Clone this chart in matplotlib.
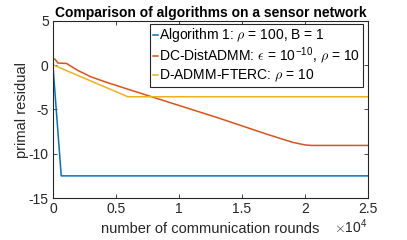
import matplotlib
matplotlib.use("Agg")
import matplotlib.pyplot as plt
import numpy as np

plt.rcParams['font.family'] = ['Liberation Sans', 'DejaVu Sans']
plt.rcParams['mathtext.fontset'] = 'cm'

# values
alg1_x = [0, 660, 25000]
alg1_y = [0, -12.5, -12.5]

dc_x = [0, 150, 400, 1100, 1300, 2000, 3000, 4400, 7700, 13100, 17000, 19000, 20000, 20500, 25000]
dc_y = [0.7, 0.7, 0.25, 0.2, 0.0, -0.6, -1.3, -2.0, -3.5, -5.94, -7.8, -8.7, -9.0, -9.06, -9.06]

fterc_x = [0, 5950, 25000]
fterc_y = [0.05, -3.56, -3.56]

labels = [r'Algorithm 1: $\rho$ = 100, B = 1',
          r'DC-DistADMM: $\epsilon$ = 10$^{\mathregular{-10}}$, $\rho$ = 10',
          r'D-ADMM-FTERC: $\rho$ = 10']
colors = ['#0072BD', '#D95319', '#EDB120']

fig = plt.figure(figsize=(4.07, 2.4), dpi=100)
ax = fig.add_axes([0.130, 0.175, 0.774, 0.7375])

ax.plot(alg1_x, alg1_y, color=colors[0], lw=1.1, label=labels[0])
ax.plot(dc_x, dc_y, color=colors[1], lw=1.1, label=labels[1])
ax.plot(fterc_x, fterc_y, color=colors[2], lw=1.1, label=labels[2])

ax.set_xlim(0, 25000)
ax.set_ylim(-15, 5)
ax.set_xticks([0, 5000, 10000, 15000, 20000, 25000])
ax.set_xticklabels(['0', '0.5', '1', '1.5', '2', '2.5'])
ax.set_yticks([-15, -10, -5, 0, 5])
ax.set_yticklabels(['-15', '-10', '-5', '0', '5'])

dark = '#262626'
for s in ax.spines.values():
    s.set_color(dark)
    s.set_linewidth(0.8)
ax.tick_params(direction='in', length=3, width=0.6, colors=dark, labelsize=10,
               top=True, right=True, pad=3)

ax.set_xlabel('number of communication rounds', fontsize=10.5, color=dark, labelpad=4)
ax.set_ylabel('primal residual', fontsize=10.5, color=dark, labelpad=0)
ax.set_title('Comparison of algorithms on a sensor network', fontsize=10,
             fontweight='bold', pad=3)
ax.text(1.0, -0.11, r'$\times$10$^{\mathregular{4}}$', transform=ax.transAxes,
        ha='right', va='top', fontsize=10, color=dark)

leg = ax.legend(loc='upper right', bbox_to_anchor=(0.985, 0.985), fontsize=10,
                handlelength=0.35, handletextpad=0.1, borderpad=0.2, labelspacing=0.1,
                borderaxespad=0.0, fancybox=False, framealpha=1, edgecolor=dark)
leg.get_frame().set_linewidth(0.8)

fig.savefig('out.png', dpi=100)
